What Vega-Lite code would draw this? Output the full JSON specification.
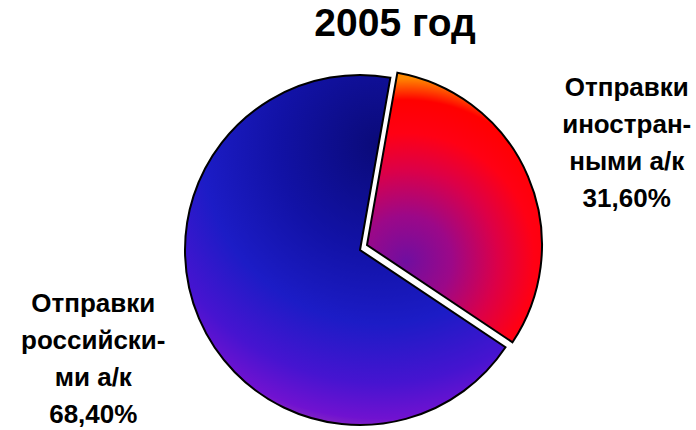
{
  "$schema": "https://vega.github.io/schema/vega-lite/v6.json",
  "width": 672,
  "height": 360,
  "autosize": "none",
  "padding": {"left": 24, "top": 70, "right": 0, "bottom": 0},
  "background": "white",
  "title": {
    "text": "2005 год",
    "font": "Liberation Sans",
    "fontSize": 39,
    "fontWeight": "bold",
    "color": "black",
    "anchor": "middle",
    "dx": 35,
    "offset": 19
  },
  "data": {
    "values": [
      {"cat": "foreign", "ord": 1, "value": 31.6, "label": "Отправки\nиностран-\nными а/к\n31,60%"},
      {"cat": "russian", "ord": 2, "value": 68.4, "label": "Отправки\nроссийски-\nми а/к\n68,40%"}
    ]
  },
  "encoding": {
    "theta": {"field": "value", "type": "quantitative", "stack": true, "scale": {"range": [0.1745, 6.4577]}},
    "order": {"field": "ord", "type": "quantitative"}
  },
  "layer": [
    {
      "mark": {
        "type": "arc",
        "outerRadius": 175,
        "stroke": "black",
        "strokeWidth": 2,
        "fill": {
          "gradient": "radial",
          "x1": 0.6, "y1": 0.2, "r1": 0,
          "x2": 0.6, "y2": 0.2, "r2": 0.85,
          "stops": [
            {"offset": 0, "color": "#0a0a78"},
            {"offset": 0.35, "color": "#1212a6"},
            {"offset": 0.6, "color": "#1c1cc6"},
            {"offset": 0.8, "color": "#4614d0"},
            {"offset": 0.92, "color": "#7012d0"},
            {"offset": 1, "color": "#a040b0"}
          ]
        }
      },
      "encoding": {
        "opacity": {"condition": {"test": "datum.cat === 'russian'", "value": 1}, "value": 0}
      }
    },
    {
      "mark": {
        "type": "arc",
        "outerRadius": 175,
        "stroke": "black",
        "strokeWidth": 2,
        "xOffset": 7,
        "yOffset": -5,
        "fill": {
          "gradient": "radial",
          "x1": 0.32, "y1": 0.7, "r1": 0,
          "x2": 0.32, "y2": 0.7, "r2": 0.68,
          "stops": [
            {"offset": 0, "color": "#700ea0"},
            {"offset": 0.25, "color": "#9c0888"},
            {"offset": 0.5, "color": "#dc0048"},
            {"offset": 0.7, "color": "#ff0014"},
            {"offset": 0.88, "color": "#ff0000"},
            {"offset": 1, "color": "#ff8800"}
          ]
        }
      },
      "encoding": {
        "opacity": {"condition": {"test": "datum.cat === 'foreign'", "value": 1}, "value": 0}
      }
    },
    {
      "mark": {
        "type": "text",
        "font": "Liberation Sans",
        "fontSize": 26,
        "fontWeight": "bold",
        "lineBreak": "\n",
        "lineHeight": 37,
        "align": "center",
        "baseline": "middle",
        "dy": -60,
        "color": "black"
      },
      "encoding": {
        "text": {"field": "label"},
        "radius": {"value": 290},
        "opacity": {"condition": {"test": "datum.cat === 'russian'", "value": 1}, "value": 0}
      }
    },
    {
      "mark": {
        "type": "text",
        "font": "Liberation Sans",
        "fontSize": 26,
        "fontWeight": "bold",
        "lineBreak": "\n",
        "lineHeight": 37,
        "align": "center",
        "baseline": "middle",
        "dy": -48,
        "color": "black"
      },
      "encoding": {
        "text": {"field": "label"},
        "radius": {"value": 290},
        "opacity": {"condition": {"test": "datum.cat === 'foreign'", "value": 1}, "value": 0}
      }
    }
  ],
  "view": {"stroke": null}
}
